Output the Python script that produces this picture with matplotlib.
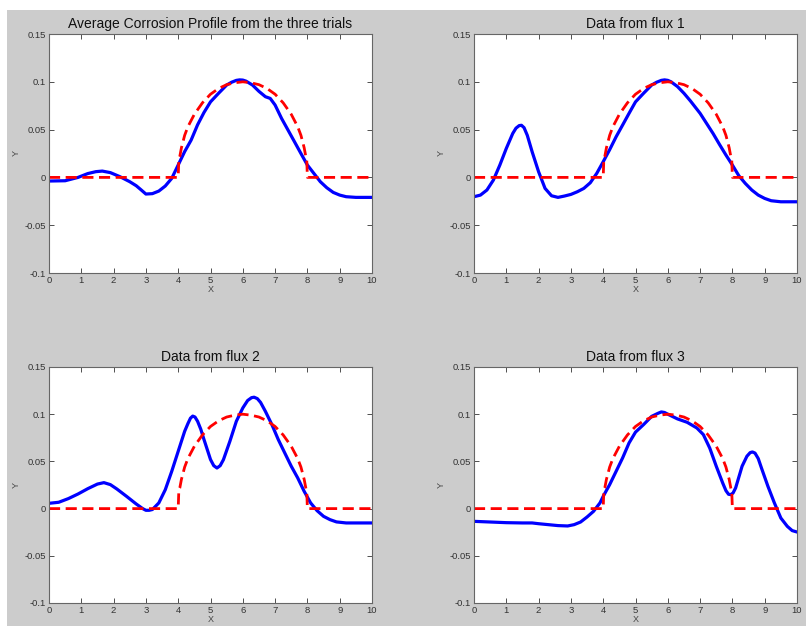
import numpy as np
import matplotlib
matplotlib.use('Agg')
import matplotlib.pyplot as plt
from matplotlib.patches import Rectangle

plt.rcParams['font.family'] = ['Liberation Sans', 'DejaVu Sans']

# reference (ideal) corrosion profile, same in every panel
ref_x = [0, 4.0, 4.02, 4.05, 4.1, 4.2, 4.3, 4.5, 4.75, 5.0, 5.25, 5.5, 5.75, 6.0,
         6.25, 6.5, 6.75, 7.0, 7.25, 7.5, 7.7, 7.8, 7.9, 7.95, 7.98, 8.0, 10]
ref_y = [0, 0, 0.020, 0.022, 0.031, 0.044, 0.053, 0.066, 0.078, 0.087, 0.093, 0.097, 0.099, 0.100,
         0.099, 0.097, 0.093, 0.087, 0.078, 0.066, 0.053, 0.044, 0.031, 0.022, 0.018, 0, 0]

# measured profiles
avg_x = [0, 0.5, 0.9, 1.2, 1.45, 1.65, 1.9, 2.2, 2.5, 2.7, 2.85, 3.0, 3.2, 3.4, 3.6, 3.8, 4.0,
         4.2, 4.4, 4.6, 4.8, 5.0, 5.25, 5.5, 5.65, 5.8, 5.9, 6.0, 6.1, 6.3, 6.5, 6.7, 6.85, 7.0,
         7.2, 7.4, 7.6, 7.8, 8.0, 8.2, 8.4, 8.6, 8.8, 9.0, 9.2, 9.5, 10]
avg_y = [-0.0038, -0.0035, 0.0, 0.004, 0.006, 0.0066, 0.005, 0.0007, -0.0045, -0.0087, -0.013,
         -0.0174, -0.017, -0.0143, -0.009, -0.001, 0.013, 0.027, 0.039, 0.055, 0.068, 0.079,
         0.088, 0.0966, 0.0995, 0.1015, 0.102, 0.1018, 0.1007, 0.0966, 0.090, 0.0844, 0.0826,
         0.0757, 0.0617, 0.0495, 0.0373, 0.025, 0.0129, 0.0042, -0.0045, -0.0108, -0.0157,
         -0.0185, -0.0202, -0.0209, -0.0209]

f1_x = [0, 0.2, 0.4, 0.6, 0.8, 1.0, 1.2, 1.3, 1.4, 1.47, 1.55, 1.65, 1.8, 2.0, 2.2, 2.4,
        2.6, 2.8, 3.0, 3.2, 3.4, 3.6, 3.8, 4.0, 4.2, 4.4, 4.6, 4.8, 5.0, 5.25, 5.5, 5.65,
        5.8, 5.9, 6.0, 6.1, 6.3, 6.5, 6.7, 7.0, 7.2, 7.4, 7.6, 7.8, 8.0, 8.2, 8.4, 8.6,
        8.8, 9.0, 9.2, 9.5, 10]
f1_y = [-0.0202, -0.0185, -0.0132, -0.0028, 0.0129, 0.0303, 0.046, 0.0515, 0.0542, 0.0545,
        0.052, 0.044, 0.0268, 0.0059, -0.0115, -0.0192, -0.0209, -0.0195, -0.0178, -0.015,
        -0.0115, -0.0056, 0.0042, 0.0164, 0.029, 0.0425, 0.0547, 0.067, 0.079, 0.088, 0.0966,
        0.0995, 0.1015, 0.102, 0.1015, 0.100, 0.095, 0.088, 0.080, 0.067, 0.0565, 0.046,
        0.0345, 0.0234, 0.0129, 0.0017, -0.0063, -0.0132, -0.0185, -0.022, -0.0244,
        -0.0255, -0.0255]

f2_x = [0, 0.3, 0.6, 0.9, 1.2, 1.5, 1.7, 1.9, 2.1, 2.4, 2.7, 2.9, 3.0, 3.1, 3.2, 3.4,
        3.6, 3.8, 4.0, 4.2, 4.3, 4.38, 4.45, 4.52, 4.6, 4.7, 4.8, 5.0, 5.1, 5.2, 5.3, 5.4,
        5.6, 5.8, 6.0, 6.15, 6.27, 6.35, 6.45, 6.55, 6.7, 6.9, 7.1, 7.3, 7.5, 7.7, 7.9,
        8.1, 8.3, 8.5, 8.7, 8.9, 9.2, 10]
f2_y = [0.0056, 0.0067, 0.0106, 0.0155, 0.0211, 0.026, 0.0275, 0.0254, 0.0208, 0.013,
        0.0049, 0.0, -0.0018, -0.0018, -0.001, 0.006, 0.020, 0.0395, 0.0607, 0.0819,
        0.090, 0.0958, 0.098, 0.097, 0.0925, 0.084, 0.073, 0.052, 0.0455, 0.043, 0.0455,
        0.0518, 0.0713, 0.0925, 0.1066, 0.1145, 0.1175, 0.118, 0.1165, 0.1125, 0.103,
        0.089, 0.073, 0.0589, 0.0449, 0.0325, 0.0183, 0.006, -0.0022, -0.0082, -0.0117,
        -0.0141, -0.0152, -0.0152]

f3_x = [0, 0.5, 1.0, 1.5, 1.8, 2.0, 2.3, 2.6, 2.9, 3.1, 3.3, 3.5, 3.7, 3.9, 4.0, 4.2,
        4.4, 4.6, 4.8, 5.0, 5.25, 5.5, 5.7, 5.8, 5.9, 6.0, 6.3, 6.6, 6.9, 7.1, 7.3, 7.5,
        7.7, 7.8, 7.88, 7.95, 8.02, 8.1, 8.3, 8.45, 8.55, 8.62, 8.7, 8.8, 8.9, 9.1, 9.3,
        9.5, 9.7, 9.85, 10]
f3_y = [-0.0135, -0.0142, -0.0149, -0.0152, -0.0152, -0.016, -0.017, -0.018, -0.0184,
        -0.017, -0.0142, -0.0089, -0.0029, 0.006, 0.013, 0.0254, 0.0395, 0.0536, 0.0695,
        0.081, 0.089, 0.0977, 0.101, 0.1024, 0.1018, 0.100, 0.095, 0.0914, 0.0854, 0.0784,
        0.064, 0.0449, 0.0271, 0.019, 0.0152, 0.0148, 0.0165, 0.0219, 0.0449, 0.0555,
        0.0593, 0.060, 0.0588, 0.053, 0.043, 0.0236, 0.006, -0.010, -0.0188, -0.0233,
        -0.0248]

titles = ['Average Corrosion Profile from the three trials', 'Data from flux 1',
          'Data from flux 2', 'Data from flux 3']
series = [(avg_x, avg_y), (f1_x, f1_y), (f2_x, f2_y), (f3_x, f3_y)]

xticks = list(range(0, 11))
yticks = [-0.1, -0.05, 0, 0.05, 0.1, 0.15]
ytick_labels = ['-0.1', '-0.05', '0', '0.05', '0.1', '0.15']

W, H = 806, 626
fig = plt.figure(figsize=(W / 100, H / 100), dpi=100, facecolor='white')
# grey window area
fig.patches.append(Rectangle((7 / W, 0), 1 - 7 / W, 1 - 10 / H, transform=fig.transFigure,
                             facecolor='#cccccc', edgecolor='none', zorder=-1))

# axes boxes in pixels: left, top, right, bottom
boxes = [(49, 34, 372, 273), (474, 34, 797, 273),
         (49, 367, 372, 603), (474, 367, 797, 603)]

for (l, t, r, b), title, (sx, sy) in zip(boxes, titles, series):
    ax = fig.add_axes([l / W, 1 - b / H, (r - l) / W, (b - t) / H])
    ax.set_facecolor('white')
    ax.plot(sx, sy, color='#0000ff', lw=2.3, solid_capstyle='round', solid_joinstyle='round')
    ax.plot(ref_x, ref_y, color='#ff0000', lw=2.0, dashes=(4, 2))
    ax.set_xlim(0, 10)
    ax.set_ylim(-0.1, 0.15)
    ax.set_xticks(xticks)
    ax.set_xticklabels([str(v) for v in xticks])
    ax.set_yticks(yticks)
    ax.set_yticklabels(ytick_labels)
    ax.tick_params(direction='in', length=3.5, width=0.6, labelsize=6.8, colors='#333333',
                   top=True, right=True, pad=2)
    for s in ax.spines.values():
        s.set_color('#666666')
        s.set_linewidth(0.8)
    ax.set_xlabel('X', fontsize=6.5, color='#444444', labelpad=0)
    ax.set_ylabel('Y', fontsize=6.5, color='#444444', labelpad=3)
    ax.set_title(title, fontsize=10, color='#111111', pad=4)

fig.savefig('out.png', dpi=100, facecolor=fig.get_facecolor())
